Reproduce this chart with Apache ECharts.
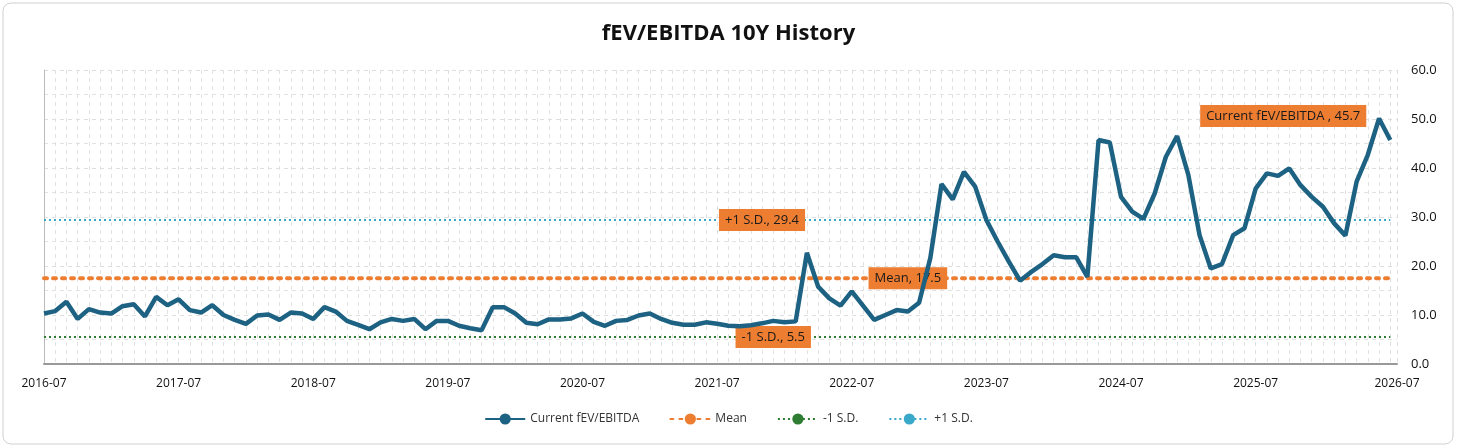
<!DOCTYPE html>
<html><head><meta charset="utf-8">
<script src="https://cdn.jsdelivr.net/npm/echarts@6/dist/echarts.min.js"></script>
<style>html,body{margin:0;padding:0;background:#fff}#c{width:1457px;height:448px}</style>
</head><body><div id="c"></div>
<script>
const tickLabels = ["2016-07","2017-07","2018-07","2019-07","2020-07","2021-07","2022-07","2023-07","2024-07","2025-07","2026-07"];
const evEbitda = [10.3,10.8,12.7,9.2,11.2,10.5,10.3,11.8,12.2,9.7,13.7,12.0,13.2,11.0,10.5,12.0,10.0,9.0,8.2,9.9,10.1,9.0,10.5,10.3,9.2,11.6,10.7,8.8,8.0,7.1,8.5,9.2,8.8,9.2,7.1,8.8,8.8,7.8,7.3,6.9,11.6,11.6,10.3,8.4,
8.1,9.1,9.1,9.3,10.3,8.6,7.8,8.8,9.0,9.9,10.3,9.2,8.4,8.0,8.0,8.5,8.2,7.8,7.7,7.9,8.3,8.8,8.5,8.7,22.7,15.8,13.4,11.9,14.8,11.9,9.0,10.0,11.0,10.7,12.5,21.6,36.7,33.6,39.2,
36.2,29.4,25.0,20.9,17.0,18.8,20.4,22.2,21.8,21.8,17.8,45.7,45.2,34.1,31.1,29.6,34.8,42.3,46.5,38.6,26.3,19.5,20.4,26.3,27.7,35.8,38.9,38.4,39.9,36.5,34.1,32.1,28.7,26.2,37.2,42.7,50.1,45.7];
const meanVal = 17.5, minusSD = 5.5, plusSD = 29.4;
const n = evEbitda.length;
const idx = evEbitda.map((v,i)=>i);
const font = 'Open Sans, Liberation Sans, Arial';
const boxLabel = {show:true, backgroundColor:'#ED7D31', color:'#1a1a1a', padding:[5,6,4,6], fontSize:13, fontFamily:font};
function flat(v, li, text){
  return idx.map(i => i===li ? {value:[i,v], label:Object.assign({}, boxLabel, {formatter:text, position:'inside'})} : [i,v]);
}
const chart = echarts.init(document.getElementById('c'));
const lineData = evEbitda.map((v,i)=> i===n-1 ? {value:[i,v], label:Object.assign({}, boxLabel, {formatter:'Current fEV/EBITDA , 45.7', position:'left', distance:24, offset:[0,-24]})} : [i,v]);
const common = {type:'line', symbol:'circle', symbolSize:0, showSymbol:true, label:{show:false}, emphasis:{disabled:true}};
chart.setOption({
  animation:false,
  graphic:[{type:'rect', shape:{x:3,y:3,width:1450,height:441,r:8}, style:{fill:'none', stroke:'#d0d0d0', lineWidth:1}}],
  title:{text:'fEV/EBITDA 10Y History', left:'center', top:18, textStyle:{fontSize:22, fontWeight:'bold', color:'#111', fontFamily:font}},
  grid:{left:44, right:60, top:70, bottom:84},
  legend:{bottom:18, left:'center', itemGap:30, textStyle:{fontSize:12, color:'#333', fontFamily:font},
    data:['Current fEV/EBITDA','Mean','-1 S.D.','+1 S.D.'], itemWidth:40},
  xAxis:{type:'value', min:0, max:120.6, interval:12,
    axisLine:{lineStyle:{color:'#999', width:2}}, axisTick:{show:false},
    axisLabel:{color:'#111', fontSize:12, fontFamily:font, margin:14, showMaxLabel:true,
      formatter:v=>{const k=Math.round(v/12); return tickLabels[k]||'';}},
    splitLine:{show:true, lineStyle:{color:'#dedede', type:[4,4]}},
    minorTick:{show:true, splitNumber:12, length:0},
    minorSplitLine:{show:true, lineStyle:{color:'#e2e2e2', type:[4,4]}}},
  yAxis:{type:'value', position:'right', min:0, max:60, interval:10,
    axisLine:{show:true, lineStyle:{color:'#bbb'}}, axisTick:{show:false},
    axisLabel:{color:'#111', fontSize:13, fontFamily:font, margin:14, formatter:v=>v.toFixed(1)},
    splitLine:{lineStyle:{color:'#dedede', type:[4,4]}},
    minorTick:{show:true, splitNumber:2, length:0},
    minorSplitLine:{show:true, lineStyle:{color:'#e2e2e2', type:[4,4]}}},
  series:[
    Object.assign({}, common, {name:'-1 S.D.', data:flat(minusSD, 65, '-1 S.D., 5.5'), z:3,
      lineStyle:{color:'#2E7D32', width:2, type:[2,3]}, itemStyle:{color:'#2E7D32'}}),
    Object.assign({}, common, {name:'+1 S.D.', data:flat(plusSD, 64, '+1 S.D., 29.4'), z:3,
      lineStyle:{color:'#3AA8C8', width:2, type:[2,3]}, itemStyle:{color:'#3AA8C8'}}),
    Object.assign({}, common, {name:'Mean', data:flat(meanVal, 77, 'Mean, 17.5'), z:3,
      lineStyle:{color:'#ED7D31', width:4, type:[3,6], cap:'round'}, itemStyle:{color:'#ED7D31'}}),
    Object.assign({}, common, {name:'Current fEV/EBITDA', data:lineData, z:4,
      lineStyle:{color:'#1D6283', width:4.5}, itemStyle:{color:'#1D6283'}})
  ]
});
</script></body></html>
